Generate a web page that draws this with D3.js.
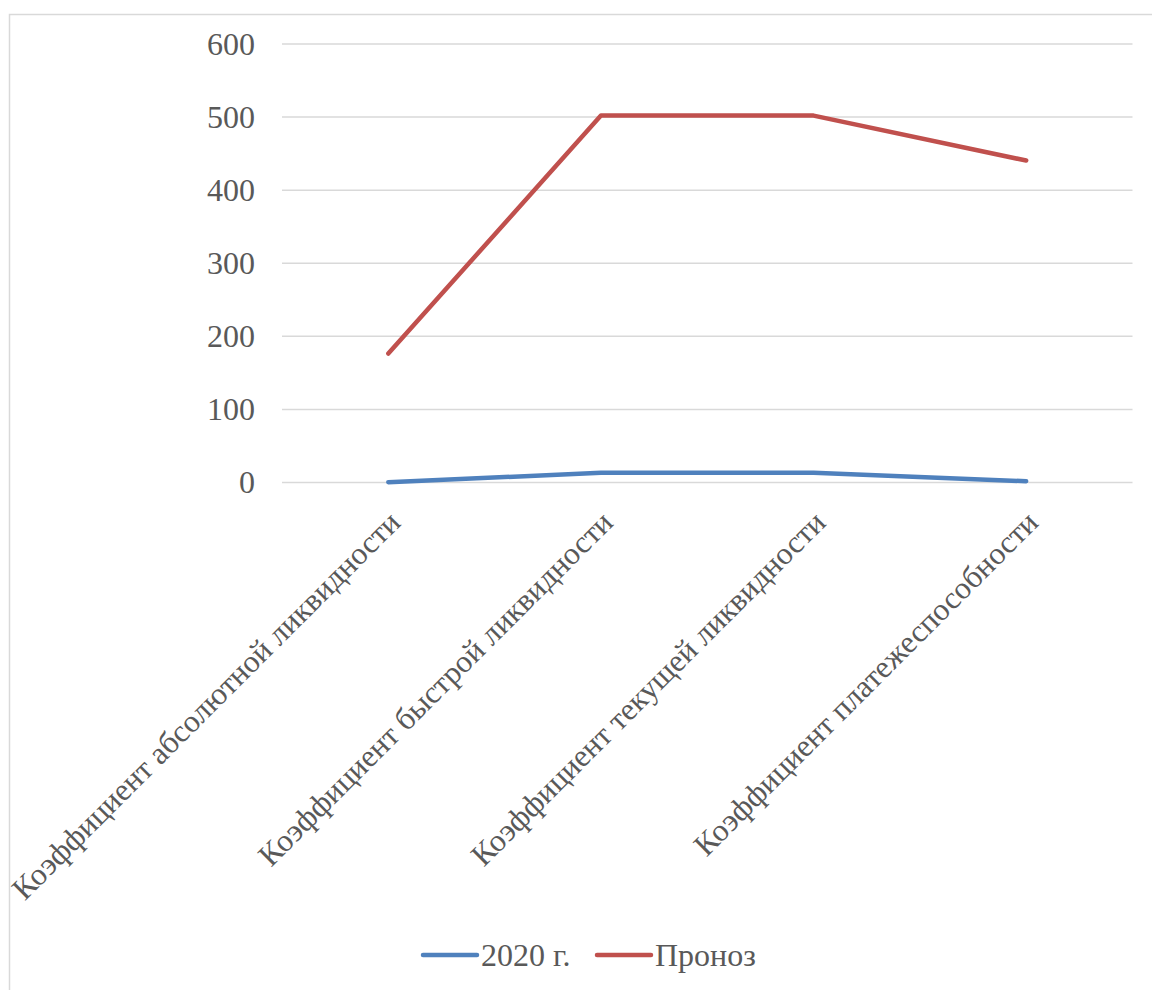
<!DOCTYPE html>
<html><head><meta charset="utf-8">
<script src="https://cdn.jsdelivr.net/npm/d3@7"></script>
<style>body{margin:0;background:#fff}svg{display:block}</style>
</head><body><svg id="c" width="1152" height="990"></svg>
<script>
const categories = ["Коэффициент абсолютной ликвидности","Коэффициент быстрой ликвидности","Коэффициент текущей ликвидности","Коэффициент платежеспособности"];
const series2020 = [0.4, 13.2, 13.2, 1.7];
const seriesForecast = [176.5, 502, 502, 440.5];
const seriesNames = ["2020 г.", "Проноз"];
const yTicks = [0,100,200,300,400,500,600];

const FONT = '"Liberation Serif","Times New Roman",serif';
const svg = d3.select("#c");
svg.append("rect").attr("x",9.5).attr("y",14.5).attr("width",1200).attr("height",1100).attr("fill","#fff").attr("stroke","#d9d9d9").attr("stroke-width",1.5);

const x = d3.scaleBand().domain(categories).range([282,1132.5]);
const y = d3.scaleLinear().domain([0,600]).range([482.5,44]);
const fs = 32;

svg.append("g").selectAll("line").data(yTicks).join("line")
 .attr("x1",282).attr("x2",1132.5).attr("y1",d=>y(d)).attr("y2",d=>y(d))
 .attr("stroke","#d9d9d9").attr("stroke-width",1.5);

const yAxis = svg.append("g").attr("transform","translate(282,0)")
 .call(d3.axisLeft(y).tickValues(yTicks).tickSize(0).tickPadding(27).tickFormat(d3.format("d")));
yAxis.select(".domain").remove();
yAxis.selectAll("text").style("font-size",fs+"px").style("fill","#595959").style("font-family",FONT);

const xAxis = svg.append("g").attr("transform","translate(0,482.5)")
 .call(d3.axisBottom(x).tickSize(0).tickPadding(0));
xAxis.select(".domain").remove();
xAxis.selectAll("text").style("font-size","31.4px").style("fill","#595959").style("font-family",FONT)
 .attr("text-anchor","end").attr("dy","0.35em")
 .attr("transform","translate(6,34) rotate(-45)").attr("y",0).attr("x",0);

const line = d3.line().x((d,i)=>x(categories[i])+x.bandwidth()/2).y(d=>y(d));
const colors = ["#4f81bd","#c0504d"];
[series2020, seriesForecast].forEach((s,k)=>{
  svg.append("path").datum(s).attr("d",line).attr("fill","none").attr("stroke",colors[k])
   .attr("stroke-width",4.5).attr("stroke-linecap","round").attr("stroke-linejoin","round");
});

const lg = svg.append("g");
const lx = [423, 597];
seriesNames.forEach((n,k)=>{
  lg.append("line").attr("x1",lx[k]).attr("x2",lx[k]+54).attr("y1",955).attr("y2",955)
   .attr("stroke",colors[k]).attr("stroke-width",4.5).attr("stroke-linecap","round");
  lg.append("text").attr("x",lx[k]+58).attr("y",955).attr("dy","0.35em")
   .style("font-size",fs+"px").style("fill","#595959").style("font-family",FONT).text(n);
});
</script></body></html>
